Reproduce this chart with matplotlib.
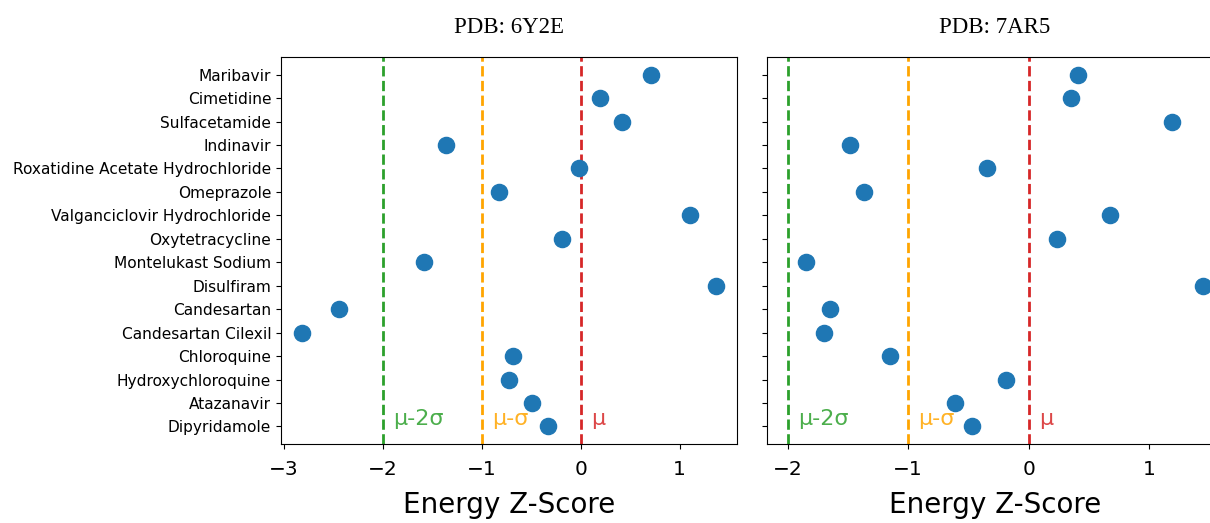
import matplotlib
matplotlib.use("Agg")
import matplotlib.pyplot as plt

# drugs, top to bottom as shown
drugs = ["Maribavir", "Cimetidine", "Sulfacetamide", "Indinavir",
         "Roxatidine Acetate Hydrochloride", "Omeprazole",
         "Valganciclovir Hydrochloride", "Oxytetracycline",
         "Montelukast Sodium", "Disulfiram", "Candesartan",
         "Candesartan Cilexil", "Chloroquine", "Hydroxychloroquine",
         "Atazanavir", "Dipyridamole"]

# energy z-scores
z_6y2e = [0.71, 0.19, 0.42, -1.36, -0.02, -0.83, 1.10, -0.19,
          -1.58, 1.37, -2.44, -2.82, -0.68, -0.72, -0.49, -0.33]
z_7ar5 = [0.41, 0.35, 1.19, -1.48, -0.35, -1.37, 0.67, 0.23,
          -1.85, 1.44, -1.65, -1.70, -1.15, -0.19, -0.61, -0.47]

titles = ["PDB: 6Y2E", "PDB: 7AR5"]
ref_x = [-2, -1, 0]
ref_labels = ["μ-2σ", "μ-σ", "μ"]
ref_colors = ["tab:green", "orange", "tab:red"]

fig = plt.figure(figsize=(12.1, 5.23), dpi=100)
ax1 = fig.add_axes([0.2322, 0.151, 0.3769, 0.740])
ax2 = fig.add_axes([0.6339, 0.151, 0.3769, 0.740])

for ax, z, title, xl in [(ax1, z_6y2e, titles[0], (-3.03, 1.58)),
                         (ax2, z_7ar5, titles[1], (-2.17, 1.61))]:
    ax.scatter(z[::-1], drugs[::-1], s=135, color="tab:blue", zorder=3)
    for x, lab, c in zip(ref_x, ref_labels, ref_colors):
        ax.axvline(x, color=c, linestyle="--", linewidth=2, zorder=2)
        ax.annotate(lab, xy=(x, 0.33), xytext=(7.5, 0), textcoords="offset points",
                    color=c, alpha=0.85, fontsize=16, va="center", ha="left")
    ax.set_xticks([-3, -2, -1, 0, 1])
    ax.set_xlim(*xl)
    ax.set_xlabel("Energy Z-Score", fontsize=20, labelpad=9)
    ax.tick_params(axis="x", labelsize=14.5, pad=8)
    ax.tick_params(axis="y", labelsize=11.1)
    ax.set_title(title, family="Liberation Serif", fontsize=16.5, pad=17)

ax2.tick_params(axis="y", labelleft=False)

fig.savefig("out.png", dpi=100)
